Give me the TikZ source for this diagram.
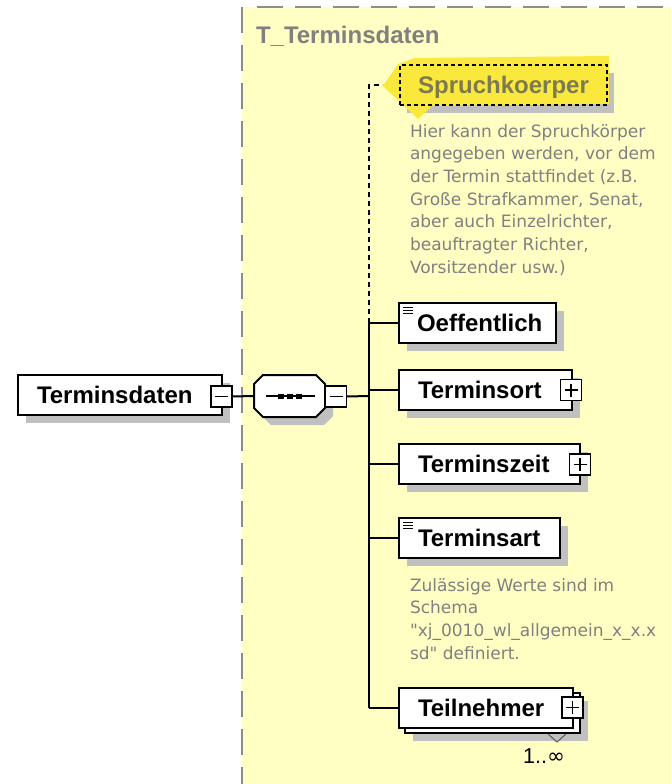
\documentclass[tikz,border=0pt]{standalone}
\usepackage{fontspec}
\setmainfont{Liberation Sans}
\newfontfamily\descfont{DejaVu Sans}
\usetikzlibrary{calc,shadows}
\definecolor{bgyellow}{HTML}{FFFFC4}
\definecolor{shadowgray}{HTML}{C0C0C0}
\definecolor{txtgray}{HTML}{808080}
\definecolor{bordergray}{HTML}{8C8C8C}
\definecolor{hiyellow}{HTML}{FBE83C}
\definecolor{spruchtext}{HTML}{7C7A50}
\begin{document}
\begin{tikzpicture}[x=1pt, y=-1pt,
  every node/.style={inner sep=0pt, outer sep=0pt},
  boxshadow/.style={drop shadow={shadow xshift=8pt, shadow yshift=-8pt, opacity=1, fill=shadowgray, draw=none}},
  elem/.style={draw=black, line width=2pt, fill=white, minimum height=40pt,
    text height=17.2pt, text depth=0pt, align=left, anchor=north west,
    font=\fontsize{24}{28}\selectfont\bfseries},
  minusbox/.style={draw=black, line width=1.5pt, fill=white, minimum size=21pt,
    path picture={\draw[line width=1.5pt] ([xshift=4pt]path picture bounding box.west) -- ([xshift=-4pt]path picture bounding box.east);}},
  plusbox/.style={draw=black, line width=1.5pt, fill=white, minimum size=21pt,
    path picture={\draw[line width=1.5pt] ([xshift=4pt]path picture bounding box.west) -- ([xshift=-4pt]path picture bounding box.east);
      \draw[line width=1.5pt] ([yshift=-4pt]path picture bounding box.north) -- ([yshift=4pt]path picture bounding box.south);}},
  conn/.style={draw=black, line width=2pt},
  optconn/.style={draw=black, line width=2pt, dash pattern=on 5pt off 4pt},
  desc/.style={anchor=base west, text=txtgray, font=\descfont\fontsize{17}{20}\selectfont},
  docicon/.style={draw=black, line width=1pt}
]
\useasboundingbox (0,0) rectangle (671,784);
\fill[white] (0,0) rectangle (671,784);
% complex type area
\fill[bgyellow] (242,7) rectangle (671,784);
\draw[bordergray, line width=2pt, dash pattern=on 26pt off 12pt] (242,7) -- (242,784);
\draw[bordergray, line width=2pt, dash pattern=on 26pt off 12pt] (257,7) -- (671,7);
\node[anchor=base west, text=txtgray, font=\fontsize{24}{28}\selectfont\bfseries] (title) at (256,44) {T\_Terminsdaten};

% root element
\node[elem, boxshadow, text width=204pt] (terminsdaten) at (18,375) {\hspace*{19pt}Terminsdaten};
\node[minusbox] (tdminus) at (221.5,396.5) {};

% sequence compositor
\node[minimum width=71pt, minimum height=42pt] (seq) at (289.5,396) {};
\fill[shadowgray] (271,383) -- (324,383) -- (333,392) -- (333,416) -- (324,425) -- (271,425) -- (262,416) -- (262,392) -- cycle;
\filldraw[fill=white, draw=black, line width=2pt] (263,375) -- (316,375) -- (325,384) -- (325,408) -- (316,417) -- (263,417) -- (254,408) -- (254,384) -- cycle;
\draw[line width=1.5pt] ($(seq.center)+(-24,0)$) -- ($(seq.center)+(25,0)$);
\foreach \dx in {-9,0,9} \fill ($(seq.center)+(\dx-3,-2.5)$) rectangle ($(seq.center)+(\dx+3,2.5)$);
\node[minusbox] (seqminus) at (336,396.5) {};
\coordinate (bus) at (369,396);

% optional element Spruchkoerper
\fill[shadowgray] (407,73) rectangle (614,113);
\fill[hiyellow] (383,86) -- (398,64) -- (415,58) -- (609,56) -- (609,104) -- (432,106) -- (418,119) -- cycle;
\node[draw=black, line width=1.5pt, dash pattern=on 4pt off 3pt, minimum width=207pt, minimum height=40pt,
  anchor=north west, text height=17.2pt, text depth=0pt, text=spruchtext,
  font=\fontsize{24}{28}\selectfont\bfseries] (spruch) at (400,65) {Spruchkoerper};
\coordinate (spruchtip) at (383,85);
\foreach \t [count=\i] in {{Hier kann der Spruchkörper},{angegeben werden, vor dem},{der Termin stattfindet (z.B.},{Große Strafkammer, Senat,},{aber auch Einzelrichter,},{beauftragter Richter,},{Vorsitzender usw.)}}
  \node[desc] (sd\i) at (410,{137+22.7*(\i-1)}) {\t};

% child elements
\node[elem, boxshadow, text width=157pt] (oeff) at (399,303) {\hspace*{18pt}Oeffentlich};
\foreach \dy in {4,7,10} \draw[docicon] ($(oeff.north west)+(4,\dy)$) -- ($(oeff.north west)+(14,\dy)$);

\node[elem, boxshadow, text width=173pt] (ort) at (399,370) {\hspace*{19pt}Terminsort};
\node[plusbox] (ortplus) at (571,390) {};

\node[elem, boxshadow, text width=181pt] (zeit) at (399,444) {\hspace*{19pt}Terminszeit};
\node[plusbox] (zeitplus) at (580,464.5) {};

\node[elem, boxshadow, text width=161pt] (art) at (399,518) {\hspace*{19pt}Terminsart};
\foreach \dy in {4,7,10} \draw[docicon] ($(art.north west)+(4,\dy)$) -- ($(art.north west)+(14,\dy)$);
\foreach \t [count=\i] in {{Zulässige Werte sind im},{Schema},{"xj\_0010\_wl\_allgemein\_x\_x.x},{sd" definiert.}}
  \node[desc] (ad\i) at (410,{591+22.7*(\i-1)}) {\t};

\node[draw=black, line width=2pt, fill=white, minimum width=175pt, minimum height=40pt, anchor=north west, boxshadow] (teilback) at (405,693) {};
\draw[draw=black!65, line width=1pt] (548,734) -- (557,742) -- (566,734);
\node[elem, text width=174pt] (teil) at (399,688) {\hspace*{19pt}Teilnehmer};
\node[plusbox] (teilplus) at (572.5,707.5) {};
\node[anchor=center, font=\fontsize{21.5}{24}\selectfont, text height=15.4pt, text depth=0pt] (card) at (544,755.5) {1..{\descfont ∞}};

% connectors
\draw[conn] (tdminus.east) -- (seq.west);
\draw[conn] (seqminus.east) -- (bus);
\draw[conn] (bus |- oeff.west) -- (bus |- teil.west);
\foreach \n in {oeff,ort,zeit,art,teil} \draw[conn] (bus |- \n.west) -- (\n.west);
\draw[optconn] (bus |- oeff.west) -- (bus |- spruchtip) -- (spruchtip);
\end{tikzpicture}
\end{document}
